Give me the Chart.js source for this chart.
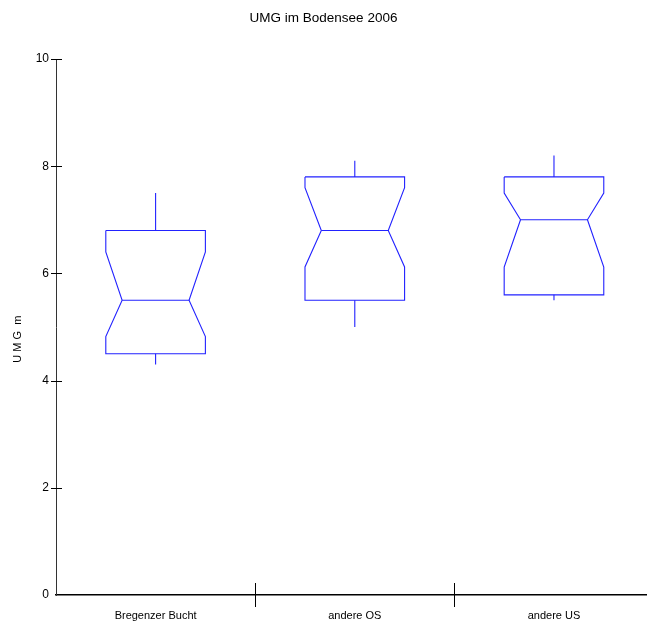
<!DOCTYPE html>
<html>
<head>
<meta charset="utf-8">
<script src="https://cdn.jsdelivr.net/npm/chart.js@4/dist/chart.umd.min.js"></script>
<style>
html,body{margin:0;padding:0;background:#fff;}
#wrap{width:647px;height:626px;}
</style>
</head>
<body>
<div id="wrap"><canvas id="c" width="647" height="626"></canvas></div>
<script>
const chartTitle = 'UMG im Bodensee 2006';
const yTitle = 'U M G  m';
const categories = ['Bregenzer Bucht', 'andere OS', 'andere US'];
const whiskerMin = [4.3, 5.0, 5.5];
const q1 = [4.5, 5.5, 5.6];
const notchLow = [4.82, 6.12, 6.12];
const median = [5.5, 6.8, 7.0];
const notchHigh = [6.4, 7.6, 7.5];
const q3 = [6.8, 7.8, 7.8];
const whiskerMax = [7.5, 8.1, 8.2];
const yTicks = [0, 2, 4, 6, 8, 10];

const BOX_HALF = 0.25;
const NOTCH_HALF = 0.168;
const BLUE = '#2222ff';
const FONT = "'Liberation Sans Narrow', 'Arial Narrow', 'Liberation Sans', Arial, sans-serif";

const datasets = [];
categories.forEach((cat, i) => {
  const c = i;
  const base = {type: 'line', borderColor: BLUE, borderWidth: 1.1, pointRadius: 0, fill: false, tension: 0, label: cat};
  datasets.push(Object.assign({}, base, {data: [
    {x: c - BOX_HALF, y: q3[i]}, {x: c + BOX_HALF, y: q3[i]}, {x: c + BOX_HALF, y: notchHigh[i]},
    {x: c + NOTCH_HALF, y: median[i]}, {x: c + BOX_HALF, y: notchLow[i]}, {x: c + BOX_HALF, y: q1[i]},
    {x: c - BOX_HALF, y: q1[i]}, {x: c - BOX_HALF, y: notchLow[i]}, {x: c - NOTCH_HALF, y: median[i]},
    {x: c - BOX_HALF, y: notchHigh[i]}, {x: c - BOX_HALF, y: q3[i]}
  ]}));
  datasets.push(Object.assign({}, base, {data: [{x: c - NOTCH_HALF, y: median[i]}, {x: c + NOTCH_HALF, y: median[i]}]}));
  datasets.push(Object.assign({}, base, {data: [{x: c, y: q3[i]}, {x: c, y: whiskerMax[i]}]}));
  datasets.push(Object.assign({}, base, {data: [{x: c, y: q1[i]}, {x: c, y: whiskerMin[i]}]}));
});

const tickPlugin = {
  id: 'axisTicks',
  afterDraw(chart) {
    const ctx = chart.ctx;
    const xs = chart.scales.x, ys = chart.scales.y;
    const area = chart.chartArea;
    ctx.save();
    ctx.strokeStyle = '#000';
    ctx.lineWidth = 1;
    ctx.beginPath();
    yTicks.forEach(v => {
      if (v === 0) return;
      const py = Math.round(ys.getPixelForValue(v)) + 0.5;
      ctx.moveTo(area.left - 5, py);
      ctx.lineTo(area.left + 6, py);
    });
    for (let k = 0; k < categories.length - 1; k++) {
      const px = Math.round(xs.getPixelForValue(k + 0.5)) + 0.5;
      ctx.moveTo(px, area.bottom - 12);
      ctx.lineTo(px, area.bottom + 12);
    }
    ctx.stroke();
    ctx.restore();
  }
};

Chart.defaults.color = '#000';
Chart.defaults.font.family = FONT;

new Chart(document.getElementById('c'), {
  type: 'scatter',
  data: {datasets},
  options: {
    responsive: false,
    animation: false,
    layout: {padding: 0},
    plugins: {
      legend: {display: false},
      tooltip: {enabled: false},
      title: {display: true, text: chartTitle, color: '#000', font: {size: 13.5, weight: 'normal', family: FONT}, padding: {top: 10, bottom: 32.8}}
    },
    scales: {
      x: {
        type: 'linear', min: -0.5, max: 2.467,
        grid: {display: false, tickLength: 0, drawTicks: false},
        border: {display: true, color: '#000', width: 1.5},
        afterBuildTicks: s => { s.ticks = categories.map((_, i) => ({value: i})); },
        afterFit: s => { s.height = 31; },
        ticks: {padding: 14, font: {size: 11, family: FONT}, color: '#000', maxRotation: 0, autoSkip: false,
          callback: v => categories[v] !== undefined ? categories[v] : ''}
      },
      y: {
        type: 'linear', min: 0, max: 10,
        grid: {display: false, tickLength: 0, drawTicks: false},
        border: {display: true, color: '#333', width: 1},
        afterBuildTicks: s => { s.ticks = yTicks.map(v => ({value: v})); },
        afterFit: s => { s.width = 56; },
        ticks: {padding: 7, font: {size: 12, family: FONT}, color: '#000'},
        title: {display: true, text: yTitle + '        ', color: '#000', font: {size: 11, family: FONT}, padding: {top: 11, bottom: 0}}
      }
    }
  },
  plugins: [tickPlugin]
});
</script>
</body>
</html>
